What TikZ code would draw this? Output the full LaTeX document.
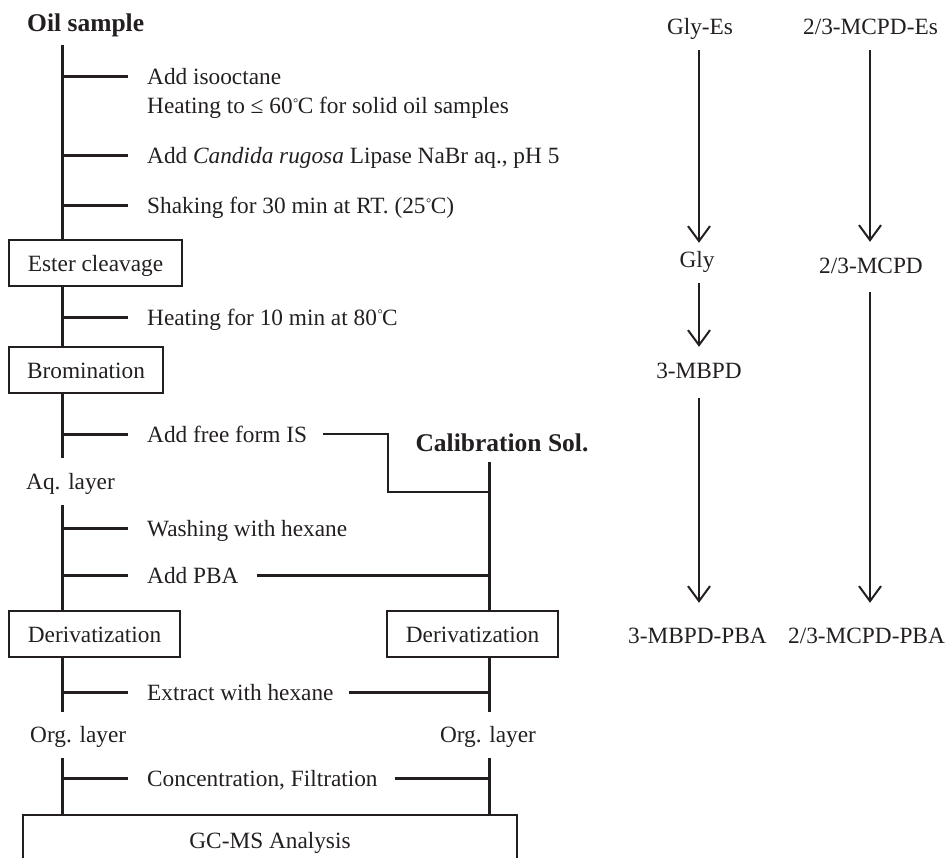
\documentclass[tikz,border=0pt]{standalone}
\usepackage{fontspec}
\setmainfont{Liberation Serif}
\usetikzlibrary{arrows.meta}
\newcommand{\degC}{\kern0.6pt{\fontsize{13}{13}\selectfont\raisebox{6.3pt}{°}}\kern-0.6pt C}
\definecolor{ink}{HTML}{231F20}
\begin{document}
\begin{tikzpicture}[x=1pt,y=-1pt,
  every node/.style={inner sep=0pt, text=ink},
  reg/.style={font=\fontsize{23.3}{28}\selectfont, text height=16pt, text depth=0pt},
  hdr/.style={font=\fontsize{25.5}{30}\selectfont\bfseries, text height=17pt, text depth=0pt},
  lbl/.style={reg, anchor=west},
  boxnode/.style={reg, draw=ink, line width=1.3pt, minimum height=46pt, text height=17pt},
  mainline/.style={draw=ink, line width=3pt},
  thinline/.style={draw=ink, line width=2pt},
  arr/.style={draw=ink, line width=2pt, -{Straight Barb[length=15pt,width=22pt,line width=2pt]}},
  chem/.style={reg, text height=16pt, text depth=5pt, anchor=base},
]
\useasboundingbox (0,0) rectangle (949,858);

\coordinate (L) at (62,0);
\coordinate (R) at (489,0);
\coordinate (A) at (699,0);
\coordinate (B) at (870,0);
\coordinate (bend) at (388,492);

% left column
\node[hdr, anchor=base west] (oil) at (27,32) {Oil sample};
\node[lbl] (s1) at (147,77) {Add isooctane};
\node[lbl] (s1b) at (147,106) {Heating to ≤ 60\degC\ for solid oil samples};
\node[lbl] (s2) at (147,156) {Add \textit{Candida rugosa} Lipase NaBr aq., pH 5};
\node[lbl] (s3) at (147,206) {Shaking for 30 min at RT. (25\degC)};
\node[boxnode, minimum width=173pt] (ester) at (95.5,263) {Ester cleavage};
\node[lbl] (s4) at (147,317) {Heating for 10 min at 80\degC};
\node[boxnode, minimum width=154pt] (brom) at (86,370) {Bromination};
\node[lbl] (s5) at (147,434) {Add free form IS};
\node[reg, anchor=base west] (aq) at (26,489) {Aq. layer};
\node[lbl] (s6) at (147,528) {Washing with hexane};
\node[lbl] (s7) at (147,575) {Add PBA};
\node[boxnode, minimum width=171pt] (derivL) at (94.5,634) {Derivatization};
\node[lbl] (s8) at (147,692) {Extract with hexane};
\node[reg, anchor=base west] (orgL) at (30,742) {Org. layer};
\node[lbl] (s9) at (147,778) {Concentration, Filtration};
\node[boxnode, minimum width=494pt, minimum height=49pt] (gcms) at (270,839.5) {GC-MS Analysis};

% right column
\node[hdr, anchor=base] (cal) at (502,451) {Calibration Sol.};
\node[boxnode, minimum width=171pt] (derivR) at (472.5,634) {Derivatization};
\node[reg, anchor=base] (orgR) at (488,742) {Org. layer};

% left verticals
\draw[mainline, shorten <=13pt] (L |- oil.south) -- (L |- ester.north);
\draw[mainline] (L |- ester.south) -- (L |- brom.north);
\draw[mainline, shorten >=15pt] (L |- brom.south) -- (L |- aq.north);
\draw[mainline, shorten <=16pt] (L |- aq.south) -- (L |- derivL.north);
\draw[mainline, shorten >=14pt] (L |- derivL.south) -- (L |- orgL.north);
\draw[mainline, shorten <=16pt] (L |- orgL.south) -- (L |- gcms.north);

% right verticals
\draw[mainline, shorten <=11pt] (R |- cal.south) -- (R |- derivR.north);
\draw[mainline, shorten >=14pt] (R |- derivR.south) -- (R |- orgR.north);
\draw[mainline, shorten <=16pt] (R |- orgR.south) -- (R |- gcms.north);

% ticks
\foreach \s in {s1,s2,s3,s4,s5,s6,s7,s8,s9}
  \draw[mainline] (L |- \s.west) -- ([xshift=-19pt]\s.west);

% cross connectors
\draw[thinline] ([xshift=16pt]s5.east) -| (bend) -- (R |- bend);
\draw[mainline] ([xshift=18pt]s7.east) -- (R |- s7.east);
\draw[mainline] ([xshift=15pt]s8.east) -- (R |- s8.east);
\draw[mainline] ([xshift=17pt]s9.east) -- (R |- s9.east);

% reaction scheme
\node[chem] (glyes) at (700,35) {Gly-Es};
\node[chem] (mcpdes) at (870.5,35) {2/3-MCPD-Es};
\node[chem] (gly) at (697,268) {Gly};
\node[chem] (mcpd) at (871,274) {2/3-MCPD};
\node[chem] (mbpd) at (699,378) {3-MBPD};
\node[chem] (mbpdpba) at (697.5,643) {3-MBPD-PBA};
\node[chem] (mcpdpba) at (866.5,643) {2/3-MCPD-PBA};

\draw[arr, shorten <=10pt, shorten >=9pt] (A |- glyes.south) -- (A |- gly.north);
\draw[arr, shorten <=10pt, shorten >=16pt] (B |- mcpdes.south) -- (B |- mcpd.north);
\draw[arr, shorten <=10pt, shorten >=15pt] (A |- gly.south) -- (A |- mbpd.north);
\draw[arr, shorten <=15pt, shorten >=24pt] (A |- mbpd.south) -- (A |- mbpdpba.north);
\draw[arr, shorten <=13pt, shorten >=24pt] (B |- mcpd.south) -- (B |- mcpdpba.north);
\end{tikzpicture}
\end{document}
